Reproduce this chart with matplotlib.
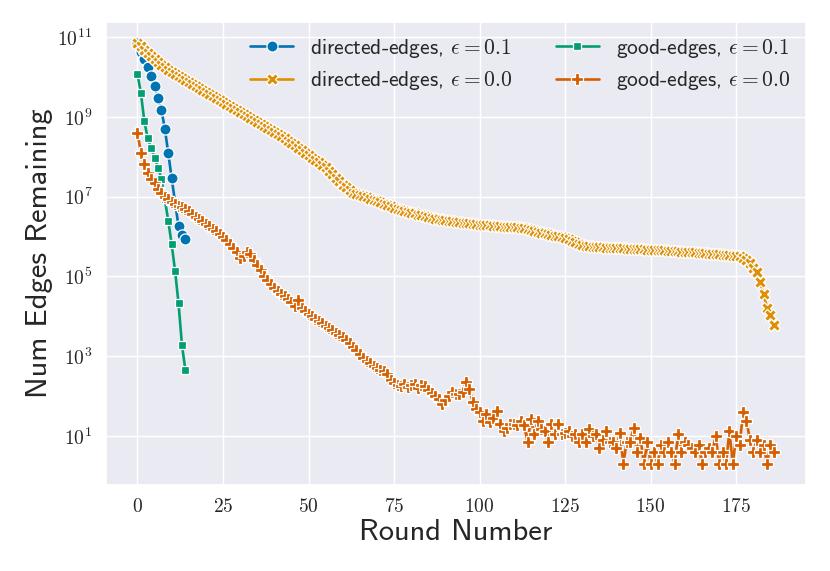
import numpy as np
import matplotlib
matplotlib.use("Agg")
import matplotlib.pyplot as plt
import seaborn as sns

# log10 of the number of edges left after each round
directed_eps01_log10 = [10.85, 10.64, 10.45, 10.26, 10.02, 9.78, 9.47, 9.18, 8.70, 8.09,
                        7.46, 6.85, 6.26, 6.03, 5.94]

good_eps01_log10 = [10.07, 9.60, 8.89, 8.46, 8.22, 7.98, 7.73, 7.45, 6.93, 6.39,
                    5.80, 5.13, 4.32, 3.28, 2.65]

directed_eps0_log10 = [
    10.86, 10.77, 10.69, 10.61, 10.53, 10.45, 10.38, 10.31, 10.24, 10.18,
    10.12, 10.07, 10.02, 9.97, 9.92, 9.87, 9.82, 9.77, 9.72, 9.67,
    9.62, 9.57, 9.52, 9.47, 9.42, 9.37, 9.32, 9.27, 9.22, 9.17,
    9.12, 9.07, 9.02, 8.97, 8.92, 8.87, 8.82, 8.77, 8.72, 8.67,
    8.62, 8.57, 8.51, 8.46, 8.40, 8.35, 8.29, 8.22, 8.16, 8.10,
    8.04, 7.98, 7.92, 7.86, 7.80, 7.74, 7.65, 7.56, 7.47, 7.38,
    7.30, 7.23, 7.16, 7.10, 7.07, 7.04, 7.01, 6.98, 6.95, 6.92,
    6.89, 6.86, 6.82, 6.79, 6.76, 6.72, 6.70, 6.67, 6.65, 6.62,
    6.60, 6.58, 6.55, 6.53, 6.51, 6.49, 6.47, 6.45, 6.43, 6.42,
    6.41, 6.40, 6.38, 6.37, 6.36, 6.35, 6.34, 6.33, 6.32, 6.31,
    6.30, 6.29, 6.28, 6.28, 6.27, 6.26, 6.26, 6.25, 6.25, 6.24,
    6.24, 6.23, 6.22, 6.21, 6.19, 6.16, 6.13, 6.11, 6.10, 6.08,
    6.06, 6.04, 6.02, 6.01, 5.99, 5.96, 5.93, 5.89, 5.85, 5.82,
    5.79, 5.77, 5.75, 5.74, 5.74, 5.73, 5.73, 5.72, 5.72, 5.71,
    5.71, 5.70, 5.70, 5.69, 5.69, 5.69, 5.68, 5.68, 5.68, 5.67,
    5.67, 5.66, 5.66, 5.65, 5.65, 5.64, 5.64, 5.63, 5.63, 5.62,
    5.61, 5.61, 5.60, 5.60, 5.59, 5.58, 5.58, 5.57, 5.56, 5.56,
    5.55, 5.54, 5.53, 5.53, 5.52, 5.51, 5.50, 5.47, 5.42, 5.33,
    5.22, 5.10, 4.85, 4.55, 4.21, 4.03, 3.79]

good_eps0_log10 = [
    8.60, 8.10, 7.82, 7.60, 7.45, 7.33, 7.20, 7.10, 7.00, 6.93,
    6.87, 6.82, 6.77, 6.73, 6.69, 6.64, 6.56, 6.50, 6.44, 6.38,
    6.32, 6.26, 6.20, 6.13, 6.06, 5.98, 5.90, 5.82, 5.72, 5.62,
    5.45, 5.50, 5.60, 5.55, 5.40, 5.28, 5.15, 5.02, 4.92, 4.82,
    4.72, 4.64, 4.57, 4.50, 4.44, 4.36, 4.25, 4.40, 4.20, 4.12,
    4.06, 4.00, 3.94, 3.88, 3.82, 3.76, 3.71, 3.65, 3.59, 3.53,
    3.47, 3.40, 3.32, 3.24, 3.15, 3.05, 2.95, 2.88, 2.82, 2.76,
    2.70, 2.66, 2.62, 2.55, 2.40, 2.32, 2.28, 2.25, 2.30, 2.22,
    2.28, 2.30, 2.20, 2.27, 2.26, 2.15, 2.08, 2.00, 1.92, 1.80,
    1.90, 2.00, 2.09, 2.06, 2.05, 2.10, 2.35, 2.18, 1.84, 1.67,
    1.59, 1.38, 1.54, 1.34, 1.45, 1.63, 1.30, 1.11, 1.20, 1.30,
    1.30, 1.26, 1.38, 1.26, 0.85, 1.41, 1.04, 1.38, 1.18, 1.11,
    0.85, 1.30, 1.04, 1.30, 1.04, 1.08, 1.11, 1.00, 1.04, 0.85,
    1.04, 0.85, 1.18, 1.00, 1.04, 0.70, 0.90, 1.11, 0.85, 0.85,
    0.70, 1.08, 0.30, 0.85, 0.85, 1.20, 0.60, 0.95, 0.30, 0.85,
    0.30, 0.60, 0.30, 0.78, 0.60, 0.85, 0.60, 0.30, 1.04, 0.60,
    0.85, 0.78, 0.70, 0.60, 0.78, 0.30, 0.60, 0.70, 0.60, 1.00,
    0.30, 0.60, 0.30, 1.11, 0.30, 1.00, 0.78, 1.59, 1.38, 0.90,
    0.60, 0.90, 0.60, 0.78, 0.30, 0.78, 0.60]

labels = [r"directed-edges, $\epsilon = 0.1$",
          r"directed-edges, $\epsilon = 0.0$",
          r"good-edges, $\epsilon = 0.1$",
          r"good-edges, $\epsilon = 0.0$"]

sns.set_theme(style="darkgrid")
plt.rcParams["font.family"] = ["cmr10", "DejaVu Sans"]
plt.rcParams["mathtext.fontset"] = "cm"
plt.rcParams["axes.formatter.use_mathtext"] = True
plt.rcParams["axes.unicode_minus"] = False

colors = sns.color_palette("colorblind")
markers = ["o", "X", (4, 0, 45), "P"]
series = [directed_eps01_log10, directed_eps0_log10, good_eps01_log10, good_eps0_log10]

fig = plt.figure(figsize=(8.3, 5.71), dpi=100)
ax = fig.add_axes([0.1273, 0.151, 0.8434, 0.811])

for i, s in enumerate(series):
    vals = np.power(10.0, np.array(s))
    rounds = np.arange(len(vals))
    ax.plot(rounds, vals, color=colors[i], marker=markers[i], lw=1.9, ms=8,
            mec="white", mew=0.9, label=labels[i])

ax.set_yscale("log")
ax.tick_params(axis="both", labelsize=14, colors=".15")
ax.set_xlabel("Round Number", family="cmss10", fontsize=22, color=".15", labelpad=2)
ax.set_ylabel("Num Edges Remaining", family="cmss10", fontsize=22, color=".15", labelpad=3)

ax.legend(loc="upper right", ncol=2, frameon=False,
          prop={"family": "cmss10", "size": 15.5},
          handlelength=2.0, handletextpad=0.8, columnspacing=2.0,
          labelspacing=0.45, borderaxespad=0.3)

plt.savefig("out.png", dpi=100)
